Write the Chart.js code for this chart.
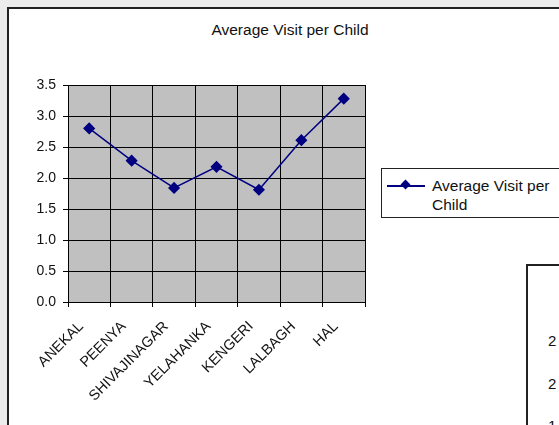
<!DOCTYPE html>
<html>
<head>
<meta charset="utf-8">
<script src="https://cdn.jsdelivr.net/npm/chart.js@4.4.1/dist/chart.umd.min.js"></script>
<style>
  html, body { margin: 0; padding: 0; background: #ececec; }
  body { width: 559px; height: 425px; position: relative; overflow: hidden; font-family: "Liberation Sans", Arial, sans-serif; }
  #frame { position: absolute; left: 7px; top: 7px; width: 600px; height: 500px; background: #fff; border: 2px solid #222; }
  #chartTitle { position: absolute; left: 0; width: 580px; top: 21px; text-align: center; font-size: 15.5px; color: #111; }
  #avgChart { position: absolute; left: 0; top: 0; }
  #legend { position: absolute; left: 381px; top: 168px; width: 200px; height: 48px; border: 1px solid #222; background: #fff; }
  #legend .sample { position: absolute; left: 5px; top: 16px; width: 38px; height: 2px; background: #000080; }
  #legend .dot { position: absolute; left: 20px; top: 12px; width: 7px; height: 7px; background: #000080; transform: rotate(45deg); }
  #legend .txt { position: absolute; left: 50px; top: 7px; width: 135px; font-size: 15.5px; line-height: 19px; color: #111; }
  #other { position: absolute; left: 526px; top: 264px; width: 100px; height: 200px; border: 2px solid #222; border-right: none; background: #fff; font-size: 15px; color: #111; }
  #other span { position: absolute; left: 20px; }
</style>
</head>
<body>
<div id="frame"></div>
<div id="chartTitle"></div>
<canvas id="avgChart" width="559" height="425"></canvas>
<div id="legend"><div class="sample"></div><div class="dot"></div><div class="txt"></div></div>
<div id="other"><span style="top:66px">2</span><span style="top:109px">2</span><span style="top:151px">1</span></div>
<script>
const chartTitle = 'Average Visit per Child'
const branches = ['ANEKAL', 'PEENYA', 'SHIVAJINAGAR', 'YELAHANKA', 'KENGERI', 'LALBAGH', 'HAL']
const avgVisits = [2.80, 2.28, 1.84, 2.18, 1.81, 2.61, 3.28]
const yTicks = [0, 0.5, 1.0, 1.5, 2.0, 2.5, 3.0, 3.5]

document.getElementById('chartTitle').textContent = chartTitle

// gray plot background like the old excel chart
const plotBg = {
  id: 'plotBg',
  beforeDraw(chart) {
    const a = chart.chartArea
    chart.ctx.save()
    chart.ctx.fillStyle = '#c0c0c0'
    chart.ctx.fillRect(a.left, a.top, a.right - a.left, a.bottom - a.top)
    chart.ctx.restore()
  }
}

const ctx = document.getElementById('avgChart')
const avgChart = new Chart(ctx, {
  type: 'line',
  data: {
    labels: branches,
    datasets: [{
      label: chartTitle,
      data: avgVisits,
      borderColor: '#000080',
      backgroundColor: '#000080',
      borderWidth: 1.5,
      pointStyle: 'rectRot',
      pointRadius: 5,
      pointHoverRadius: 5,
      tension: 0
    }]
  },
  options: {
    responsive: false,
    animation: false,
    layout: { padding: { left: 0, top: 85, right: 194, bottom: 0 } },
    plugins: {
      legend: { display: false },
      title: { display: false },
      tooltip: { enabled: false }
    },
    scales: {
      x: {
        offset: true,
        grid: { offset: true, color: '#000', lineWidth: 1, tickLength: 5 },
        border: { color: '#000', width: 1 },
        ticks: {
          color: '#111',
          font: { family: '"Liberation Sans", Arial', size: 14.5 },
          minRotation: 45,
          maxRotation: 45,
          padding: 11,
          labelOffset: -8,
          autoSkip: false
        },
        afterFit: (s) => { s.height = 123 }
      },
      y: {
        min: 0,
        max: 3.5,
        grid: { color: '#000', lineWidth: 1, tickLength: 5 },
        border: { color: '#000', width: 1 },
        afterBuildTicks: (s) => { s.ticks = yTicks.map(v => ({ value: v })) },
        ticks: {
          color: '#111',
          font: { family: '"Liberation Sans", Arial', size: 14 },
          padding: 7,
          callback: (v) => Number(v).toFixed(1)
        },
        afterFit: (s) => { s.width = 68 }
      }
    }
  },
  plugins: [plotBg]
})

document.querySelector('#legend .txt').textContent = avgChart.data.datasets[0].label
</script>
</body>
</html>
